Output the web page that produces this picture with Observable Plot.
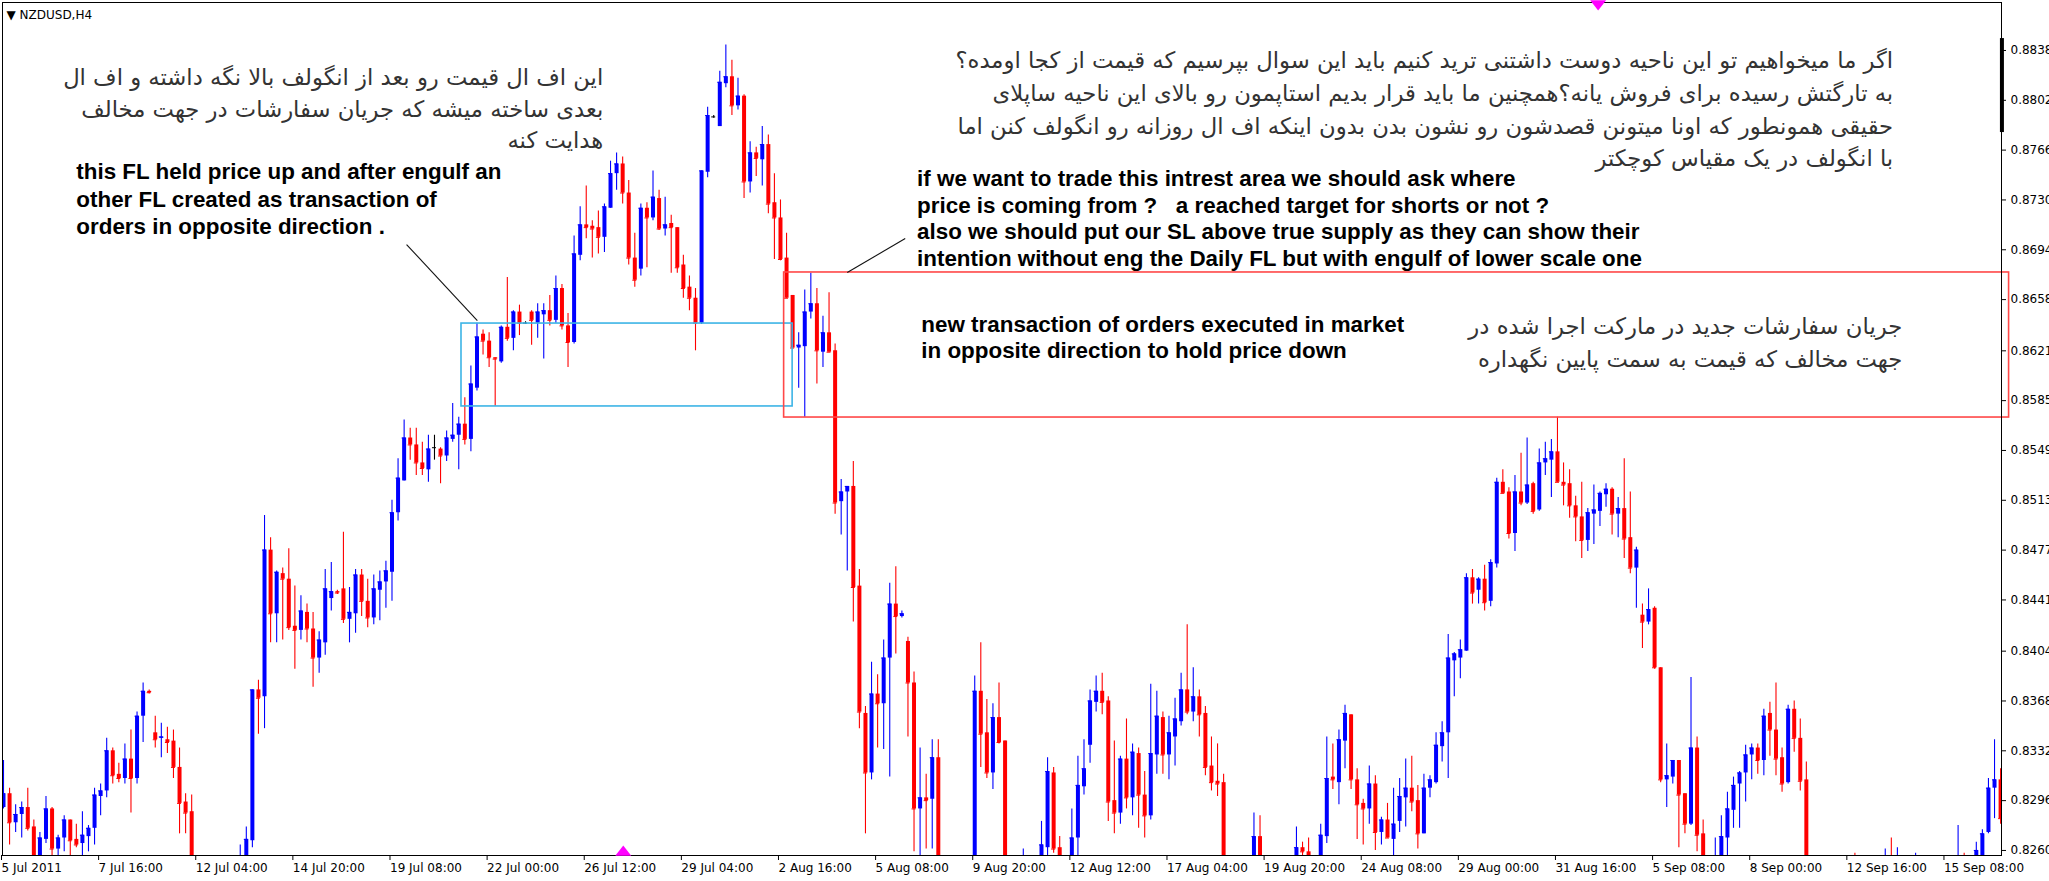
<!DOCTYPE html>
<html><head><meta charset="utf-8">
<script src="https://cdn.jsdelivr.net/npm/d3@7"></script>
<script src="https://cdn.jsdelivr.net/npm/@observablehq/plot@0.6"></script>
<style>
html,body{margin:0;padding:0;background:#fff;overflow:hidden}
svg text{white-space:pre}
</style>
</head><body><div id="chart"></div>
<script>
// NZDUSD H4 candles (bar index 0 = 5 Jul 2011 00:00), prices
const open = [.8291,.8301,.8280,.8286,.8291,.8277,.8251,.8268,.8290,.8261,.8269,.8282,.8268,.8265,.8270,.8276,.8299,.8303,.8332,.8315,.8312,.8326,.8312,.8357,.8375,.8345,.8341,.8340,.8339,.8320,.8295,.8288,.8246,.8238,.8244,.8235,.8240,.8247,.8242,.8248,.8253,.8267,.8376,.8371,.8477,.8431,.8460,.8456,.8422,.8419,.8432,.8420,.8399,.8410,.8442,.8447,.8449,.8427,.8431,.8459,.8440,.8428,.8448,.8454,.8461,.8504,.8527,.8558,.8553,.8540,.8535,.8551,.8550,.8545,.8557,.8560,.8568,.8557,.8594,.8633,.8628,.8616,.8613,.8638,.8630,.8649,.8641,.8649,.8641,.8647,.8650,.8643,.8666,.8639,.8627,.8690,.8712,.8711,.8710,.8703,.8724,.8749,.8756,.8735,.8688,.8680,.8724,.8717,.8731,.8709,.8713,.8710,.8683,.8667,.8659,.8641,.8750,.8790,.8783,.8814,.8819,.8798,.8805,.8743,.8764,.8759,.8770,.8728,.8717,.8688,.8661,.8623,.8624,.8649,.8655,.8620,.8634,.8621,.8512,.8519,.8523,.8451,.8359,.8316,.8373,.8366,.8399,.8438,.8429,.8411,.8381,.8290,.8298,.8297,.8327,.8247,.8241,.8246,.8237,.8244,.8248,.8375,.8345,.8316,.8356,.8339,.8246,.8240,.8246,.8247,.8241,.8248,.8262,.8316,.8262,.8251,.8246,.8269,.8306,.8336,.8367,.8375,.8368,.8296,.8287,.8326,.8298,.8330,.8300,.8285,.8329,.8356,.8329,.8342,.8353,.8376,.8360,.8371,.8359,.8321,.8310,.8309,.8247,.8238,.8243,.8246,.8250,.8270,.8251,.8242,.8235,.8238,.8244,.8249,.8262,.8259,.8251,.8248,.8270,.8313,.8309,.8339,.8358,.8311,.8294,.8290,.8308,.8273,.8282,.8268,.8281,.8298,.8305,.8296,.8272,.8305,.8309,.8335,.8345,.8397,.8399,.8404,.8457,.8448,.8456,.8440,.8467,.8526,.8519,.8489,.8519,.8511,.8525,.8506,.8540,.8542,.8548,.8526,.8525,.8509,.8501,.8484,.8503,.8505,.8517,.8521,.8503,.8507,.8486,.8464,.8430,.8425,.8435,.8392,.8311,.8313,.8325,.8301,.8279,.8334,.8272,.8251,.8246,.8248,.8269,.8289,.8308,.8316,.8329,.8334,.8325,.8359,.8347,.8327,.8309,.8362,.8341,.8311,.8246,.8238,.8234,.8230,.8235,.8231,.8237,.8245,.8240,.8244,.8238,.8243,.8247,.8248,.8243,.8247,.8241,.8238,.8244,.8240,.8235,.8240,.8237,.8243,.8246,.8251,.8244,.8248,.8256,.8273,.8305,.8311];
const high = [.8325,.8305,.8293,.8295,.8305,.8282,.8273,.8299,.8291,.8271,.8285,.8282,.8279,.8288,.8278,.8305,.8308,.8341,.8334,.8323,.8337,.8347,.8360,.8381,.8376,.8357,.8352,.8349,.8347,.8334,.8301,.8300,.8251,.8248,.8253,.8246,.8251,.8254,.8253,.8264,.8277,.8376,.8383,.8502,.8486,.8462,.8464,.8478,.8451,.8444,.8438,.8432,.8418,.8463,.8468,.8448,.8490,.8450,.8463,.8463,.8456,.8459,.8462,.8469,.8513,.8543,.8571,.8565,.8565,.8555,.8560,.8560,.8551,.8563,.8583,.8573,.8587,.8610,.8641,.8636,.8634,.8616,.8639,.8674,.8650,.8654,.8642,.8650,.8655,.8655,.8661,.8675,.8669,.8648,.8704,.8725,.8740,.8715,.8722,.8727,.8758,.8764,.8761,.8744,.8706,.8727,.8728,.8751,.8737,.8732,.8719,.8710,.8690,.8675,.8666,.8751,.8797,.8791,.8823,.8842,.8831,.8818,.8806,.8772,.8768,.8783,.8777,.8749,.8730,.8706,.8661,.8634,.8665,.8677,.8666,.8646,.8663,.8626,.8528,.8523,.8541,.8463,.8364,.8396,.8387,.8412,.8453,.8465,.8433,.8414,.8389,.8334,.8315,.8340,.8340,.8254,.8251,.8253,.8248,.8251,.8386,.8410,.8369,.8366,.8381,.8339,.8253,.8250,.8261,.8254,.8251,.8281,.8327,.8320,.8270,.8254,.8290,.8328,.8340,.8376,.8386,.8388,.8371,.8339,.8328,.8355,.8337,.8334,.8317,.8380,.8375,.8360,.8357,.8370,.8388,.8423,.8392,.8376,.8364,.8342,.8337,.8315,.8253,.8247,.8251,.8253,.8287,.8285,.8254,.8248,.8244,.8248,.8253,.8277,.8266,.8269,.8254,.8279,.8342,.8337,.8347,.8365,.8358,.8319,.8297,.8321,.8314,.8284,.8294,.8305,.8312,.8326,.8328,.8307,.8315,.8314,.8345,.8353,.8416,.8403,.8412,.8460,.8463,.8457,.8466,.8470,.8529,.8535,.8522,.8531,.8547,.8558,.8526,.8550,.8555,.8557,.8573,.8540,.8535,.8516,.8526,.8507,.8524,.8519,.8525,.8522,.8515,.8543,.8519,.8479,.8438,.8449,.8436,.8392,.8337,.8325,.8325,.8301,.8385,.8342,.8282,.8256,.8269,.8285,.8302,.8313,.8317,.8336,.8337,.8337,.8362,.8367,.8381,.8334,.8365,.8368,.8355,.8324,.8253,.8248,.8246,.8240,.8244,.8241,.8246,.8258,.8248,.8251,.8248,.8251,.8261,.8269,.8262,.8253,.8250,.8258,.8251,.8248,.8246,.8248,.8247,.8251,.8278,.8258,.8253,.8266,.8275,.8312,.8340,.8319];
const low = [.8290,.8264,.8273,.8269,.8274,.8246,.8248,.8265,.8253,.8254,.8259,.8254,.8262,.8254,.8259,.8264,.8285,.8298,.8308,.8309,.8308,.8287,.8308,.8338,.8373,.8334,.8327,.8330,.8312,.8272,.8272,.8238,.8231,.8227,.8231,.8224,.8233,.8235,.8237,.8242,.8248,.8262,.8344,.8348,.8410,.8410,.8412,.8419,.8391,.8412,.8410,.8378,.8388,.8401,.8433,.8445,.8424,.8410,.8417,.8429,.8421,.8423,.8426,.8435,.8440,.8498,.8527,.8542,.8531,.8531,.8526,.8542,.8525,.8541,.8555,.8535,.8553,.8548,.8592,.8618,.8609,.8581,.8612,.8628,.8621,.8632,.8640,.8625,.8630,.8615,.8639,.8641,.8636,.8609,.8626,.8686,.8702,.8688,.8691,.8692,.8724,.8737,.8727,.8683,.8667,.8675,.8681,.8715,.8708,.8704,.8677,.8677,.8659,.8650,.8621,.8640,.8746,.8789,.8783,.8811,.8791,.8795,.8731,.8735,.8747,.8740,.8720,.8687,.8686,.8659,.8623,.8594,.8573,.8644,.8597,.8609,.8620,.8503,.8488,.8462,.8425,.8348,.8272,.8311,.8334,.8333,.8313,.8402,.8428,.8342,.8259,.8256,.8261,.8261,.8238,.8235,.8231,.8227,.8230,.8235,.8244,.8320,.8312,.8304,.8337,.8238,.8231,.8230,.8237,.8233,.8235,.8244,.8256,.8258,.8246,.8238,.8242,.8256,.8300,.8323,.8360,.8358,.8281,.8272,.8279,.8290,.8285,.8276,.8269,.8282,.8315,.8315,.8311,.8321,.8350,.8358,.8353,.8342,.8314,.8303,.8299,.8238,.8231,.8227,.8233,.8238,.8246,.8246,.8235,.8227,.8225,.8231,.8238,.8246,.8256,.8246,.8242,.8246,.8265,.8304,.8293,.8319,.8304,.8268,.8264,.8279,.8260,.8264,.8269,.8256,.8273,.8277,.8288,.8261,.8272,.8298,.8308,.8324,.8312,.8371,.8384,.8404,.8438,.8438,.8433,.8436,.8464,.8518,.8485,.8476,.8509,.8510,.8503,.8505,.8531,.8515,.8526,.8509,.8500,.8483,.8471,.8476,.8481,.8494,.8508,.8488,.8486,.8471,.8460,.8435,.8406,.8423,.8391,.8309,.8291,.8308,.8262,.8272,.8278,.8259,.8242,.8238,.8240,.8246,.8256,.8276,.8276,.8295,.8311,.8315,.8314,.8328,.8314,.8302,.8308,.8331,.8303,.8238,.8231,.8227,.8224,.8220,.8225,.8224,.8230,.8235,.8231,.8233,.8230,.8235,.8240,.8238,.8237,.8235,.8231,.8233,.8234,.8230,.8227,.8231,.8230,.8235,.8240,.8240,.8238,.8246,.8251,.8272,.8283,.8279];
const close = [.8301,.8280,.8286,.8291,.8276,.8251,.8269,.8290,.8261,.8269,.8282,.8267,.8264,.8271,.8276,.8300,.8303,.8332,.8314,.8312,.8326,.8312,.8357,.8375,.8374,.8340,.8342,.8338,.8320,.8294,.8287,.8246,.8238,.8244,.8235,.8240,.8247,.8242,.8248,.8253,.8268,.8376,.8370,.8477,.8431,.8461,.8456,.8421,.8419,.8433,.8420,.8399,.8412,.8449,.8447,.8446,.8427,.8432,.8459,.8440,.8428,.8449,.8454,.8462,.8504,.8529,.8558,.8553,.8540,.8536,.8550,.8551,.8545,.8558,.8560,.8568,.8557,.8597,.8631,.8628,.8616,.8615,.8638,.8630,.8649,.8641,.8641,.8643,.8649,.8650,.8643,.8666,.8639,.8627,.8691,.8712,.8710,.8709,.8703,.8725,.8749,.8756,.8735,.8688,.8672,.8724,.8717,.8732,.8709,.8712,.8710,.8681,.8666,.8659,.8641,.8751,.8791,.8790,.8815,.8819,.8798,.8805,.8743,.8764,.8760,.8770,.8727,.8717,.8687,.8659,.8623,.8625,.8649,.8655,.8621,.8634,.8620,.8511,.8519,.8523,.8450,.8360,.8316,.8373,.8366,.8399,.8438,.8429,.8431,.8381,.8290,.8298,.8296,.8327,.8247,.8241,.8246,.8237,.8244,.8248,.8375,.8344,.8316,.8356,.8338,.8246,.8240,.8246,.8247,.8241,.8248,.8264,.8317,.8261,.8251,.8246,.8269,.8307,.8319,.8368,.8375,.8367,.8295,.8287,.8326,.8298,.8331,.8300,.8285,.8330,.8357,.8329,.8345,.8355,.8376,.8360,.8371,.8358,.8320,.8309,.8308,.8247,.8238,.8243,.8246,.8250,.8270,.8251,.8242,.8235,.8238,.8244,.8249,.8262,.8259,.8251,.8248,.8271,.8312,.8311,.8340,.8359,.8311,.8293,.8290,.8308,.8273,.8282,.8269,.8279,.8299,.8305,.8295,.8272,.8305,.8311,.8336,.8345,.8399,.8402,.8405,.8457,.8446,.8456,.8439,.8468,.8526,.8518,.8489,.8519,.8511,.8524,.8505,.8540,.8543,.8548,.8526,.8524,.8509,.8501,.8484,.8504,.8506,.8518,.8521,.8503,.8507,.8485,.8464,.8477,.8425,.8434,.8392,.8311,.8314,.8325,.8300,.8279,.8334,.8271,.8251,.8246,.8248,.8270,.8290,.8307,.8316,.8329,.8334,.8325,.8357,.8347,.8326,.8308,.8362,.8341,.8310,.8246,.8238,.8234,.8230,.8235,.8231,.8237,.8241,.8240,.8244,.8238,.8243,.8247,.8248,.8243,.8247,.8241,.8238,.8244,.8240,.8235,.8240,.8237,.8243,.8246,.8251,.8244,.8248,.8260,.8272,.8305,.8311,.8283];

// axis ticks
const xTickBars = d3.range(0, 321, 16);
const xTickLabels = ["5 Jul 2011","7 Jul 16:00","12 Jul 04:00","14 Jul 20:00","19 Jul 08:00","22 Jul 00:00","26 Jul 12:00","29 Jul 04:00","2 Aug 16:00","5 Aug 08:00","9 Aug 20:00","12 Aug 12:00","17 Aug 04:00","19 Aug 20:00","24 Aug 08:00","29 Aug 00:00","31 Aug 16:00","5 Sep 08:00","8 Sep 00:00","12 Sep 16:00","15 Sep 08:00"];
const priceTicks = [0.8838,0.8802,0.8766,0.8730,0.8694,0.8658,0.8621,0.8585,0.8549,0.8513,0.8477,0.8441,0.8404,0.8368,0.8332,0.8296,0.8260];

// annotation objects (bar index / price)
const cyanBox = [{x1: 75.45, x2: 130.0, y1: 0.85808, y2: 0.86407}];
const redBox = [{x1: 128.6, x2: 330.4, y1: 0.85728, y2: 0.86776}];
const pointers = [
  {x1: 66.4, y1: 0.86978, x2: 78.06, y2: 0.86429},
  {x1: 139.0, y1: 0.86776, x2: 148.55, y2: 0.87021}
];
const arrows = [{i: 262.7, p: 0.88712, dir: "down"}, {i: 102.1, p: 0.82593, dir: "up"}];
const scaleBar = [{i: 329.22, p1: 0.88466, p2: 0.87787}];

const faNote1 = {i: 98.8, p: 0.87975, t: "این اف ال قیمت رو بعد از انگولف بالا نگه داشته و اف ال\nبعدی ساخته میشه که جریان سفارشات در جهت مخالف\nهدایت کنه"};
const faNote2 = {i: 311.3, p: 0.87975, t: "اگر ما میخواهیم تو این ناحیه دوست داشتنی ترید کنیم باید این سوال بپرسیم که قیمت از کجا اومده؟\nبه تارگتش رسیده برای فروش یانه؟همچنین ما باید قرار بدیم استاپمون رو بالای این ناحیه ساپلای\nحقیقی همونطور که اونا میتونن قصدشون رو نشون بدن بدون اینکه اف ال روزانه رو انگولف کنن اما\nبا انگولف در یک مقیاس کوچکتر"};
const faNote3 = {i: 312.8, p: 0.86288, t: "جریان سفارشات جدید در مارکت اجرا شده در\nجهت مخالف که قیمت به سمت پایین نگهداره"};
const enNote1 = {i: 12.0, p: 0.87314, t: "this FL held price up and after engulf an\nother FL created as transaction of\norders in opposite direction ."};
const enNote2 = {i: 150.5, p: 0.87173, t: "if we want to trade this intrest area we should ask where\nprice is coming from ?   a reached target for shorts or not ?\nalso we should put our SL above true supply as they can show their\nintention without eng the Daily FL but with engulf of lower scale one"};
const enNote3 = {i: 151.2, p: 0.86314, t: "new transaction of orders executed in market\nin opposite direction to hold price down"};

const bars = open.map((o, i) => ({i, o, h: high[i], l: low[i], c: close[i]}));
const col = d => d.c > d.o ? "#0000ff" : d.c < d.o ? "#ff0000" : "#000000";

const triDown = {draw(ctx, size) { const s = Math.sqrt(size) * 0.75; ctx.moveTo(-s, -s * 0.55); ctx.lineTo(s, -s * 0.55); ctx.lineTo(0, s * 0.75); ctx.closePath(); }};
const triUp = {draw(ctx, size) { const s = Math.sqrt(size) * 0.75; ctx.moveTo(-s, s * 0.55); ctx.lineTo(s, s * 0.55); ctx.lineTo(0, -s * 0.75); ctx.closePath(); }};

// Persian notes: anchored by their right edge (start of an rtl line)
const faText = (note, lh) => Plot.text([note], {x: "i", y: "p", text: "t", textAnchor: "start", lineAnchor: "middle", lineHeight: lh, fontSize: 22.7, fontFamily: "DejaVu Sans", fill: "#333"});
const enText = (note, lh) => Plot.text([note], {x: "i", y: "p", text: "t", textAnchor: "start", lineAnchor: "middle", lineHeight: lh, fontSize: 22.4, fontWeight: "bold", fontFamily: "Liberation Sans, Arial, sans-serif", fill: "#000"});

const chart = Plot.plot({
  width: 2049, height: 881,
  marginLeft: 2, marginTop: 2, marginRight: 48, marginBottom: 26,
  x: {type: "linear", domain: [-0.165, 329.15], axis: null},
  y: {domain: [0.825636, 0.887266], axis: null},
  style: {fontFamily: "DejaVu Sans", fontSize: "12px", background: "#fff", color: "#000", overflow: "visible"},
  marks: [
    Plot.ruleX(bars, {x: "i", y1: "l", y2: "h", stroke: col, strokeWidth: 1.1, clip: true}),
    Plot.ruleX(bars, {x: "i", y1: "o", y2: "c", stroke: col, strokeWidth: 4, clip: true}),
    Plot.ruleY(bars, {x1: d => d.i - 0.33, x2: d => d.i + 0.33, y: "c", stroke: col, clip: true}),
    Plot.rect(cyanBox, {x1: "x1", x2: "x2", y1: "y1", y2: "y2", fill: "none", stroke: "#3cb4e6", strokeWidth: 1.6}),
    Plot.rect(redBox, {x1: "x1", x2: "x2", y1: "y1", y2: "y2", fill: "none", stroke: "#ff4848", strokeWidth: 1.6}),
    Plot.link(pointers, {x1: "x1", y1: "y1", x2: "x2", y2: "y2", stroke: "#111", strokeWidth: 1.1}),
    Plot.frame({stroke: "#000"}),
    Plot.ruleX(scaleBar, {x: "i", y1: "p1", y2: "p2", stroke: "#000", strokeWidth: 4}),
    Plot.dot(arrows.filter(d => d.dir === "down"), {x: "i", y: "p", r: 6, symbol: triDown, fill: "#ff00ff", stroke: "none"}),
    Plot.dot(arrows.filter(d => d.dir === "up"), {x: "i", y: "p", r: 6, symbol: triUp, fill: "#ff00ff", stroke: "none"}),
    Plot.axisY({anchor: "right", ticks: priceTicks, tickFormat: d => d.toFixed(4), tickSize: 4, tickPadding: 5, fill: "#000"}),
    Plot.axisX({anchor: "bottom", ticks: xTickBars, tickFormat: d => xTickLabels[d / 16], tickSize: 5, tickPadding: 3, textAnchor: "start", dx: -2, fill: "#000"}),
    Plot.text(["▼ NZDUSD,H4"], {frameAnchor: "top-left", textAnchor: "start", lineAnchor: "middle", dx: 4, dy: 13, fontSize: 12, fill: "#000"}),
    faText(faNote1, 1.38),
    faText(faNote2, 1.45),
    faText(faNote3, 1.46),
    enText(enNote1, 1.23),
    enText(enNote2, 1.19),
    enText(enNote3, 1.16)
  ]
});
// right-to-left layout for the Persian notes
d3.select(chart).selectAll("text")
  .filter(function() { return /[\u0600-\u06FF]/.test(this.textContent); })
  .attr("direction", "rtl")
  .style("unicode-bidi", "embed");
document.getElementById("chart").appendChild(chart);
</script>
</body></html>
